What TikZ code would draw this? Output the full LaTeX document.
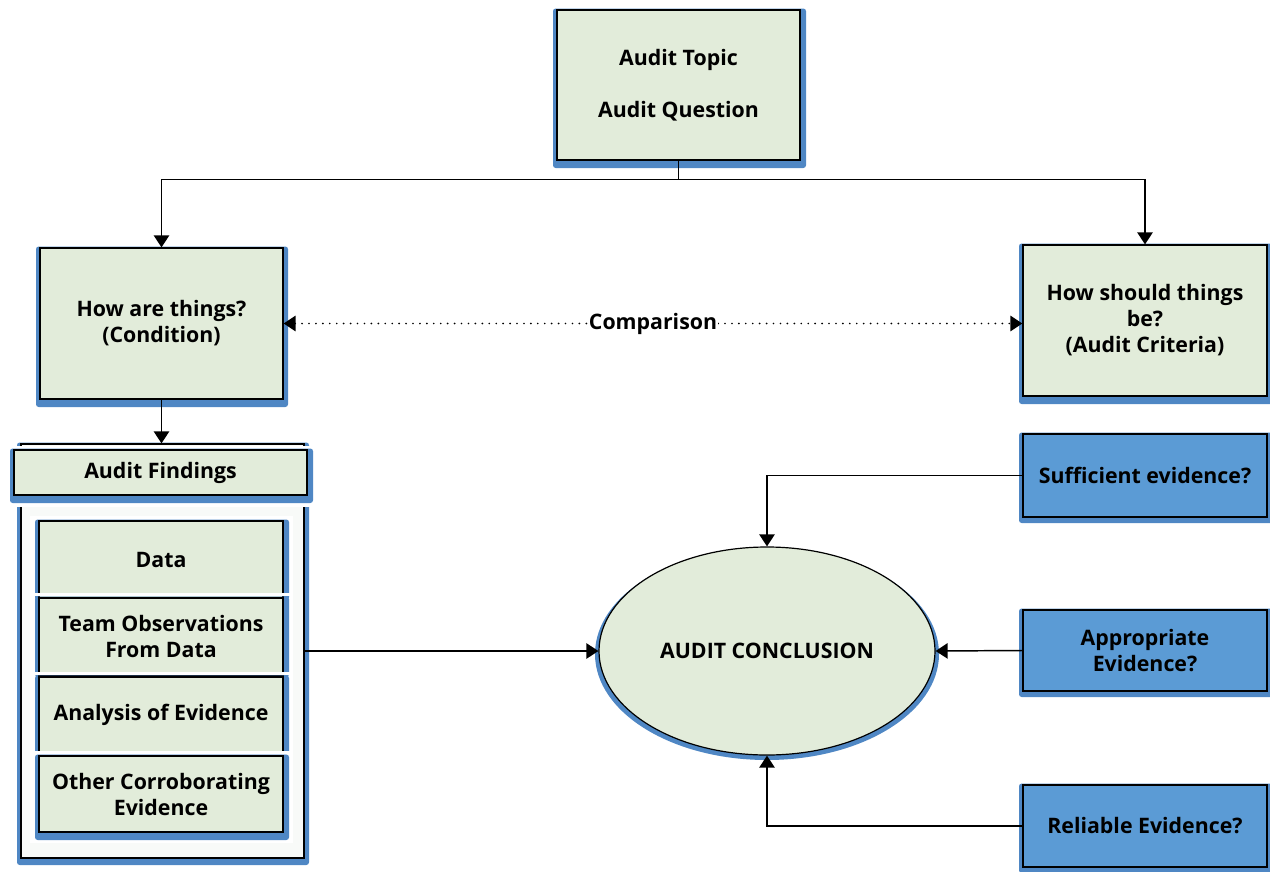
\documentclass[tikz,border=0pt]{standalone}
\usepackage{fontspec}
\setmainfont{Open Sans}
\usetikzlibrary{arrows.meta,calc,shapes.geometric}

\definecolor{boxgreen}{HTML}{E2ECDA}
\definecolor{framecol}{HTML}{4F87C4}
\definecolor{boxblue}{HTML}{5B9BD5}
\definecolor{panelbg}{HTML}{F8FAF8}

% blue backing plate behind a box: #1,#2 top-left, #3,#4 bottom-right, #5 right overhang, #6 bottom overhang
\newcommand\backing[6]{%
  \fill[framecol, rounded corners=2pt] (#1-4,#2-1.5) rectangle (#3+#5,#4+#6);}
% box node spanning a rectangle: #1 style, #2 name, #3,#4 top-left, #5,#6 bottom-right, #7 text
\newcommand\boxnode[7]{%
  \pgfmathsetmacro\bw{(#5-#3)*0.75}%
  \pgfmathsetmacro\bh{(#6-#4)*0.75}%
  \node[#1, minimum width=\bw pt, minimum height=\bh pt] (#2) at ({(#3+#5)/2},{(#4+#6)/2}) {#7};}
% white strip that separates stacked boxes
\newcommand\gapband[4]{\fill[white] (#1,#2) rectangle (#3,#4);}

\begin{document}
\begin{tikzpicture}[x=0.75pt, y=-0.75pt,
  txt/.style={font=\fontsize{16}{19.5}\selectfont\bfseries, align=center, text=black},
  gbox/.style={txt, draw=black, line width=0.9pt, fill=boxgreen, inner sep=0pt},
  bbox/.style={gbox, fill=boxblue},
  panel/.style={draw=black, line width=0.9pt, fill=panelbg, inner sep=0pt},
  tip/.tip={Triangle[length=9pt,width=11.5pt]},
  link/.style={line width=1.1pt, -tip},
  cmp/.style={line width=1.4pt, line cap=round, dash pattern=on 0pt off 5.2pt, tip-tip}
]
\useasboundingbox (0,0) rectangle (1270,871);

% ---- question at the top ----
\backing{557}{10}{800}{160}{6}{8}
\boxnode{gbox}{topic}{557}{10}{800}{160}{Audit Topic\\[19.5pt]Audit Question}

% ---- condition and criteria ----
\backing{40}{248}{283}{399}{5}{8}
\boxnode{gbox}{cond}{40}{248}{283}{399}{How are things?\\(Condition)}

\backing{1023}{245}{1267}{396}{6}{8}
\boxnode{gbox}{crit}{1023}{245}{1267}{396}{How should things\\be?\\(Audit Criteria)}

% ---- findings column ----
\fill[framecol, rounded corners=2pt] (17,442.5) rectangle (309,865);
\boxnode{panel}{cont}{21}{444}{304}{858}{}
\gapband{8}{446}{316}{507}
\backing{14}{450}{307}{495}{6}{8}
\boxnode{gbox}{head}{14}{450}{307}{495}{Audit Findings}

\fill[white] (30,516) rectangle (293,843);
\backing{39}{521}{283}{598}{6}{2}
\boxnode{gbox}{data}{39}{521}{283}{598}{Data}
\gapband{30}{593}{293}{596}
\backing{39}{598}{283}{675}{6}{2}
\boxnode{gbox}{team}{39}{598}{283}{675}{Team Observations\\From Data}
\gapband{30}{672}{293}{675}
\backing{39}{677}{283}{752}{6}{2}
\boxnode{gbox}{anal}{39}{677}{283}{752}{Analysis of Evidence}
\gapband{30}{751}{293}{754}
\backing{39}{756}{283}{832}{6}{8}
\boxnode{gbox}{other}{39}{756}{283}{832}{Other Corroborating\\Evidence}

% ---- conclusion ----
\fill[framecol] (767,654) ellipse [x radius=172, y radius=106];
\node[gbox, ellipse, minimum width=252pt, minimum height=156pt] (concl) at (767,651) {AUDIT CONCLUSION};

% ---- evidence tests ----
\backing{1023}{434}{1267}{517}{6}{6}
\boxnode{bbox}{suff}{1023}{434}{1267}{517}{Sufficient evidence?}
\backing{1023}{610}{1267}{691}{6}{6}
\boxnode{bbox}{appr}{1023}{610}{1267}{691}{Appropriate\\Evidence?}
\backing{1023}{785}{1267}{867}{6}{6}
\boxnode{bbox}{rel}{1023}{785}{1267}{867}{Reliable Evidence?}

% ---- connectors ----
\coordinate (bus) at ($(topic.south)+(0,19)$);
\draw[link] (topic.south) -- (bus) -| (cond.north);
\draw[link] (bus) -| (crit.north);
\draw[cmp] (cond.east) -- (cond.east -| crit.west)
  node[midway, txt, fill=white, inner sep=1pt] (cmplabel) {Comparison};
\draw[link] (cond.south) -- (cond.south |- cont.north);
\draw[link] (cont.east) -- (concl.west);
\draw[link] (suff.west) -| (concl.north);
\draw[link] (appr.west) -- (concl.east);
\draw[link] (rel.west) -| (concl.south);
\end{tikzpicture}
\end{document}
